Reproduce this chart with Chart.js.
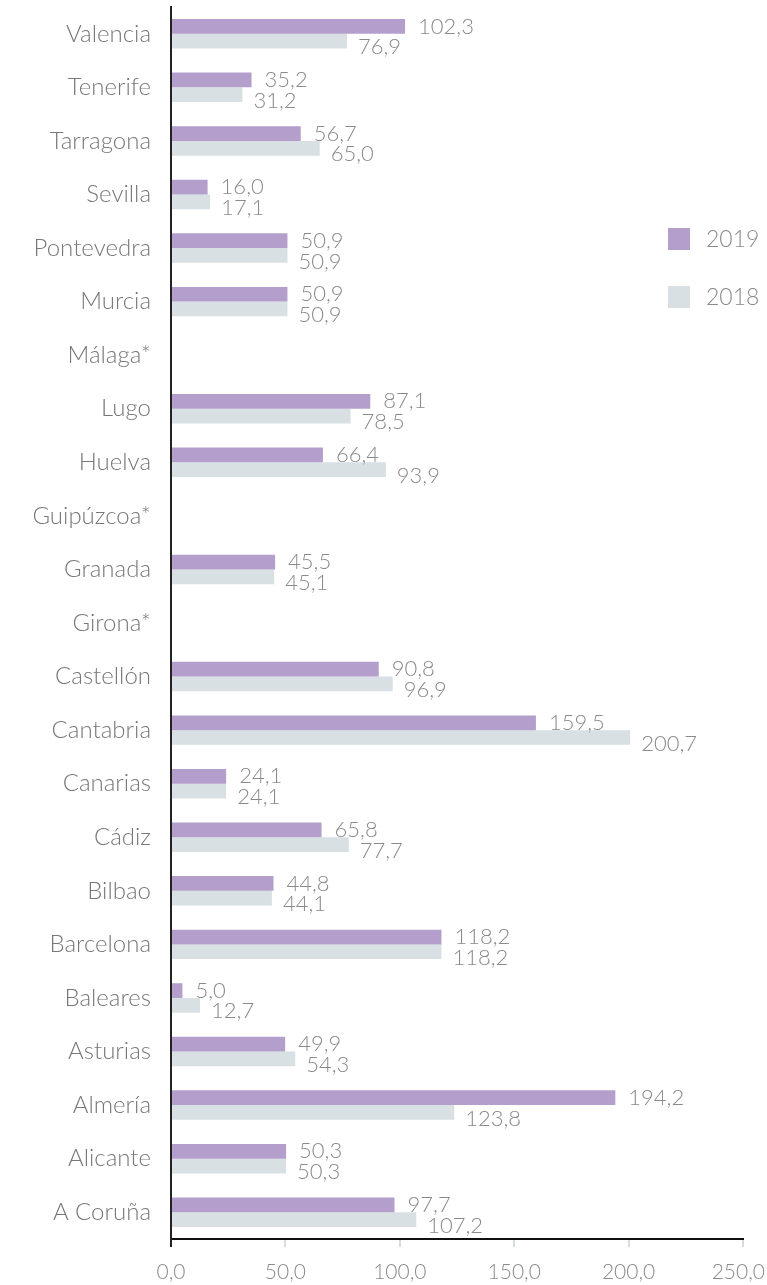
<!DOCTYPE html>
<html><head><meta charset="utf-8">
<script src="https://cdn.jsdelivr.net/npm/chart.js@4.4.0/dist/chart.umd.min.js"></script>
<style>html,body{margin:0;padding:0;background:#fff;}canvas{display:block;}</style>
</head><body>
<canvas id="c" width="767" height="1285"></canvas>
<script>
const categories = ["Valencia","Tenerife","Tarragona","Sevilla","Pontevedra","Murcia","Málaga*","Lugo","Huelva","Guipúzcoa*","Granada","Girona*","Castellón","Cantabria","Canarias","Cádiz","Bilbao","Barcelona","Baleares","Asturias","Almería","Alicante","A Coruña"];
const values2019 = [102.3,35.2,56.7,16.0,50.9,50.9,null,87.1,66.4,null,45.5,null,90.8,159.5,24.1,65.8,44.8,118.2,5.0,49.9,194.2,50.3,97.7];
const values2018 = [76.9,31.2,65.0,17.1,50.9,50.9,null,78.5,93.9,null,45.1,null,96.9,200.7,24.1,77.7,44.1,118.2,12.7,54.3,123.8,50.3,107.2];
const xTicks = [0,50,100,150,200,250];
const seriesNames = ["2019","2018"];

const FONT = "Lato, 'Open Sans', sans-serif";
const fmt = v => v.toFixed(1).replace('.', ',');

const valueLabels = {
  id: 'valueLabels',
  afterDatasetsDraw(chart) {
    const ctx = chart.ctx;
    ctx.save();
    ctx.font = "300 22px " + FONT;
    ctx.fillStyle = "#8a8a8a";
    ctx.textAlign = "left";
    ctx.textBaseline = "middle";
    chart.data.datasets.forEach((ds, di) => {
      const meta = chart.getDatasetMeta(di);
      meta.data.forEach((bar, i) => {
        const v = ds.data[i];
        if (v === null || v === undefined) return;
        const dy = di === 0 ? 0 : 6;
        const dx = di === 0 ? 13 : 11;
        ctx.fillText(fmt(v), bar.x + dx, bar.y + dy);
      });
    });
    ctx.restore();
  }
};

const xLabels = {
  id: 'xLabels',
  afterDraw(chart) {
    const ctx = chart.ctx;
    const sx = chart.scales.x;
    ctx.save();
    ctx.font = "300 21px " + FONT;
    ctx.fillStyle = "#8a8a8a";
    ctx.textAlign = "center";
    ctx.textBaseline = "middle";
    xTicks.forEach(v => {
      const t = fmt(v);
      const w = ctx.measureText(t).width;
      let x = sx.getPixelForValue(v);
      x = Math.min(x, chart.width - 2 - w / 2);
      ctx.fillText(t, x, 1272);
    });
    ctx.restore();
  }
};

const customLegend = {
  id: 'customLegend',
  afterDraw(chart) {
    const ctx = chart.ctx;
    ctx.save();
    ctx.font = "300 23px " + FONT;
    ctx.textBaseline = "middle";
    ctx.textAlign = "left";
    chart.data.datasets.forEach((ds, di) => {
      const y = 228 + di * 58;
      ctx.fillStyle = ds.backgroundColor;
      ctx.fillRect(668, y, 22, 22);
      ctx.fillStyle = "#8a8a8a";
      ctx.fillText(ds.label, 706, y + 12);
    });
    ctx.restore();
  }
};

new Chart(document.getElementById('c'), {
  type: 'bar',
  data: {
    labels: categories,
    datasets: [
      { label: seriesNames[0], data: values2019, backgroundColor: "#b49fcc" },
      { label: seriesNames[1], data: values2018, backgroundColor: "#d9e0e3" }
    ]
  },
  options: {
    indexAxis: 'y',
    responsive: false,
    animation: false,
    devicePixelRatio: 1,
    layout: { padding: { top: 7, right: 24, left: 0, bottom: 0 } },
    datasets: { bar: { categoryPercentage: 0.55, barPercentage: 1.0 } },
    plugins: { legend: { display: false }, tooltip: { enabled: false } },
    scales: {
      x: {
        min: 0, max: 250,
        afterBuildTicks(scale) { scale.ticks = xTicks.map(v => ({ value: v })); },
        afterFit(scale) { scale.height = 46; scale.paddingLeft = 0; scale.paddingRight = 0; },
        grid: { drawOnChartArea: false, drawTicks: true, tickLength: 8,
          color: ctx => ctx.index === 0 ? "#222" : "#d5dde2", lineWidth: 2 },
        border: { display: true, color: "#111", width: 2 },
        ticks: { font: { family: FONT, size: 21, weight: 300 }, color: "rgba(0,0,0,0)", padding: 12,
          callback: v => fmt(v), maxRotation: 0 }
      },
      y: {
        afterFit(scale) { scale.width = 171; scale.paddingTop = 0; scale.paddingBottom = 0; },
        grid: { display: false, drawTicks: false },
        border: { display: true, color: "#222", width: 2 },
        ticks: { font: { family: FONT, size: 24, weight: 300 }, color: "#777", padding: 20 }
      }
    }
  },
  plugins: [valueLabels, xLabels, customLegend]
});
</script>
</body></html>
